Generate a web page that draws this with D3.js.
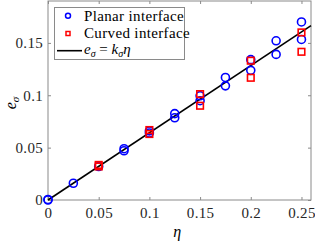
<!DOCTYPE html>
<html>
<head>
<meta charset="utf-8">
<script src="https://cdn.jsdelivr.net/npm/d3@7"></script>
<style>
  body { margin: 0; background: #fff; }
  text { font-family: "Liberation Serif", "DejaVu Serif", serif; }
</style>
</head>
<body>
<div id="chart"></div>
<script>
// data
var planarEta = [0, 0, 0.025, 0.05, 0.075, 0.075, 0.1, 0.1, 0.125, 0.125, 0.15, 0.15, 0.175, 0.175, 0.2, 0.2, 0.225, 0.225, 0.25, 0.25];
var planarE   = [0, 0.0005, 0.016, 0.032, 0.047, 0.049, 0.064, 0.066, 0.0785, 0.0825, 0.0948, 0.0995, 0.109, 0.117, 0.1238, 0.134, 0.139, 0.152, 0.1533, 0.170];
var curvedEta = [0.05, 0.05, 0.1, 0.1, 0.15, 0.15, 0.2, 0.2, 0.25, 0.25];
var curvedE   = [0.032, 0.0335, 0.063, 0.0668, 0.090, 0.1011, 0.1167, 0.133, 0.1415, 0.160];
var kSigma = 0.642;
var xTicks = [0, 0.05, 0.1, 0.15, 0.2, 0.25];
var yTicks = [0, 0.05, 0.1, 0.15];
var legendLabels = ["Planar interface", "Curved interface"];

var svgWidth = 315;
var svgHeight = 242;
var margin = { top: 1, right: 4, bottom: 42, left: 48 };
var width = svgWidth - margin.left - margin.right;
var height = svgHeight - margin.top - margin.bottom;

var svg = d3.select("#chart")
    .append("svg")
    .attr("width", svgWidth)
    .attr("height", svgHeight);

var g = svg.append("g")
    .attr("transform", `translate(${margin.left}, ${margin.top})`);

var x = d3.scaleLinear().domain([0, 0.2594]).range([0, width]);
var y = d3.scaleLinear().domain([0, 0.19]).range([height, 0]);

var axisColor = "#8a8a8a";

// axes with inward ticks, box on
function styleAxis(sel) {
    sel.select(".domain").remove();
    sel.selectAll("line").attr("stroke", axisColor);
    sel.selectAll("text").attr("fill", "#262626").style("font-size", "15px").style("letter-spacing", "0.3px");
}

g.append("g")
    .attr("transform", `translate(0, ${height})`)
    .call(d3.axisBottom(x).tickValues(xTicks).tickSizeInner(-3).tickSizeOuter(0).tickPadding(7).tickFormat(d3.format("")))
    .call(styleAxis);

g.append("g")
    .call(d3.axisLeft(y).tickValues(yTicks).tickSizeInner(-3).tickSizeOuter(0).tickPadding(5).tickFormat(d3.format("")))
    .call(styleAxis);

g.append("g")
    .call(d3.axisTop(x).tickValues(xTicks).tickSizeInner(-3).tickSizeOuter(0).tickFormat(""))
    .call(styleAxis);

g.append("g")
    .attr("transform", `translate(${width}, 0)`)
    .call(d3.axisRight(y).tickValues(yTicks).tickSizeInner(-3).tickSizeOuter(0).tickFormat(""))
    .call(styleAxis);

g.append("rect")
    .attr("x", 0).attr("y", 0)
    .attr("width", width).attr("height", height)
    .attr("fill", "none")
    .attr("stroke", axisColor);

// fit line
var lineX = [0, 0.2594];
g.append("path")
    .datum(lineX)
    .attr("fill", "none")
    .attr("stroke", "#000")
    .attr("stroke-width", 1.6)
    .attr("d", d3.line().x(d => x(d)).y(d => y(kSigma * d)));

// planar points
g.selectAll(".planar")
    .data(planarEta)
    .enter().append("circle")
    .attr("cx", d => x(d))
    .attr("cy", (d, i) => y(planarE[i]))
    .attr("r", 4)
    .attr("fill", "none")
    .attr("stroke", "#0000ff")
    .attr("stroke-width", 1.6);

// curved points
g.selectAll(".curved")
    .data(curvedEta)
    .enter().append("rect")
    .attr("x", d => x(d) - 3.3)
    .attr("y", (d, i) => y(curvedE[i]) - 3.3)
    .attr("width", 6.6)
    .attr("height", 6.6)
    .attr("fill", "none")
    .attr("stroke", "#ff0000")
    .attr("stroke-width", 1.6);

// legend
var leg = svg.append("g");
leg.append("rect")
    .attr("x", 54.5).attr("y", 7.5)
    .attr("width", 130).attr("height", 52)
    .attr("fill", "#fff")
    .attr("stroke", axisColor);

leg.append("circle")
    .attr("cx", 68).attr("cy", 15.7).attr("r", 2.5)
    .attr("fill", "none").attr("stroke", "#0000ff").attr("stroke-width", 1.5);
leg.append("rect")
    .attr("x", 66).attr("y", 31.5).attr("width", 4).attr("height", 4)
    .attr("fill", "none").attr("stroke", "#ff0000").attr("stroke-width", 1.5);
leg.append("line")
    .attr("x1", 57).attr("x2", 82).attr("y1", 50.7).attr("y2", 50.7)
    .attr("stroke", "#000").attr("stroke-width", 1.6);

leg.selectAll(".lt")
    .data(legendLabels)
    .enter().append("text")
    .attr("x", 84)
    .attr("y", (d, i) => 20.5 + i * 17)
    .style("font-size", "15px")
    .style("letter-spacing", "0.35px")
    .text(d => d);

var eq = leg.append("text")
    .attr("x", 84).attr("y", 54)
    .style("font-size", "15px");
eq.append("tspan").attr("font-style", "italic").text("e");
eq.append("tspan").attr("font-style", "italic").attr("font-size", "10px").attr("dy", 3).text("σ");
eq.append("tspan").attr("dy", -3).text(" = ");
eq.append("tspan").attr("font-style", "italic").text("k");
eq.append("tspan").attr("font-style", "italic").attr("font-size", "10px").attr("dy", 3).text("σ");
eq.append("tspan").attr("font-style", "italic").attr("dy", -3).text("η");

// axis labels
svg.append("text")
    .attr("x", margin.left + x(0.1275))
    .attr("y", 237)
    .attr("text-anchor", "middle")
    .attr("font-style", "italic")
    .style("font-size", "16px")
    .text("η");

var yl = svg.append("text")
    .attr("transform", "translate(16, 103) rotate(-90)")
    .attr("text-anchor", "middle")
    .attr("font-style", "italic")
    .style("font-size", "16px");
yl.append("tspan").text("e");
yl.append("tspan").attr("font-size", "11px").attr("dy", 3).text("σ");
</script>
</body>
</html>
